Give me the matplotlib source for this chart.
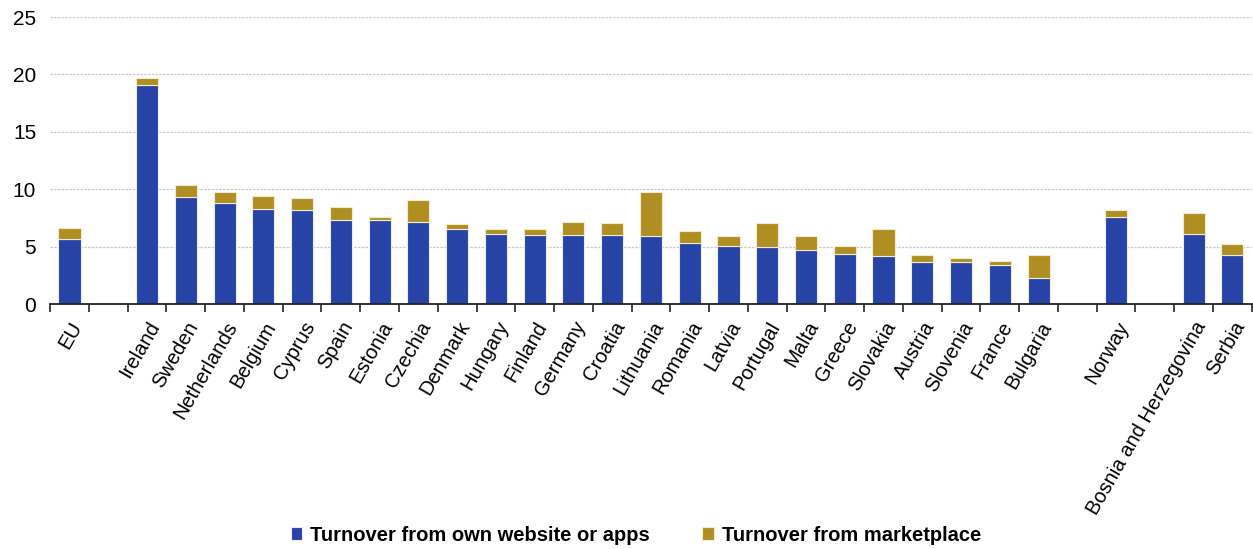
import numpy as np
import matplotlib
matplotlib.use("Agg")
import matplotlib.pyplot as plt
from matplotlib.ticker import FixedLocator

plt.rcParams['font.family'] = ['Liberation Sans', 'DejaVu Sans']

# empty strings are spacer slots between country groups
countries = ['EU', '', 'Ireland', 'Sweden', 'Netherlands', 'Belgium', 'Cyprus', 'Spain',
             'Estonia', 'Czechia', 'Denmark', 'Hungary', 'Finland', 'Germany', 'Croatia',
             'Lithuania', 'Romania', 'Latvia', 'Portugal', 'Malta', 'Greece', 'Slovakia',
             'Austria', 'Slovenia', 'France', 'Bulgaria', '', 'Norway', '',
             'Bosnia and Herzegovina', 'Serbia']
own_site = [5.7, np.nan, 19.1, 9.3, 8.8, 8.3, 8.2, 7.3,
            7.35, 7.15, 6.5, 6.15, 6.05, 6.0, 6.0,
            5.9, 5.35, 5.1, 5.0, 4.75, 4.35, 4.2,
            3.7, 3.65, 3.45, 2.3, np.nan, 7.6, np.nan,
            6.1, 4.3]
marketplace = [0.9, np.nan, 0.55, 1.05, 1.0, 1.15, 1.05, 1.15,
               0.25, 1.9, 0.45, 0.35, 0.45, 1.15, 1.05,
               3.9, 1.05, 0.8, 2.05, 1.2, 0.7, 2.3,
               0.55, 0.35, 0.3, 1.95, np.nan, 0.6, np.nan,
               1.85, 0.95]

blue = '#2743A6'
gold = '#B08F22'

fig = plt.figure(figsize=(12.53, 5.49), dpi=100)
ax = fig.add_axes([0.040, 0.446, 0.959, 0.523])

x = np.arange(len(countries))
own = np.array(own_site)
mkt = np.array(marketplace)
ax.bar(x, own, width=0.57, color=blue, edgecolor='#E8ECF5', linewidth=0.8,
       label='Turnover from own website or apps', zorder=3)
ax.bar(x, mkt, bottom=own, width=0.57, color=gold, edgecolor='#F3EBCF', linewidth=0.8,
       label='Turnover from marketplace', zorder=3)

ax.set_xlim(-0.5, len(countries) - 0.5)
ax.set_ylim(0, 25)
ax.set_yticks([0, 5, 10, 15, 20, 25])
ax.yaxis.grid(True, linestyle=(0, (2, 1)), color='#C8C8C8', linewidth=0.9, zorder=0)
for side in ['left', 'right', 'top']:
    ax.spines[side].set_visible(False)
ax.spines['bottom'].set_color('#222222')
ax.spines['bottom'].set_linewidth(1.3)
ax.spines['bottom'].set_zorder(4)

ax.tick_params(axis='y', length=0, labelsize=15, pad=10)
ax.set_xticks(x)
ax.set_xticklabels(countries, rotation=60, ha='right', rotation_mode='anchor', fontsize=14.5)
ax.tick_params(axis='x', which='major', length=0, pad=10)
ax.xaxis.set_minor_locator(FixedLocator(np.arange(-0.5, len(countries), 1.0)))
ax.tick_params(axis='x', which='minor', length=6, width=1.2, color='#222222', direction='out')

fig.legend(loc='lower center', bbox_to_anchor=(0.5076, -0.025), ncol=2, frameon=False,
           handlelength=0.55, handleheight=0.55, handletextpad=0.4, columnspacing=2.6,
           prop={'family': ['Liberation Sans Narrow', 'Liberation Sans'], 'weight': 'bold', 'size': 14.5})

fig.savefig('out.png', dpi=100)
